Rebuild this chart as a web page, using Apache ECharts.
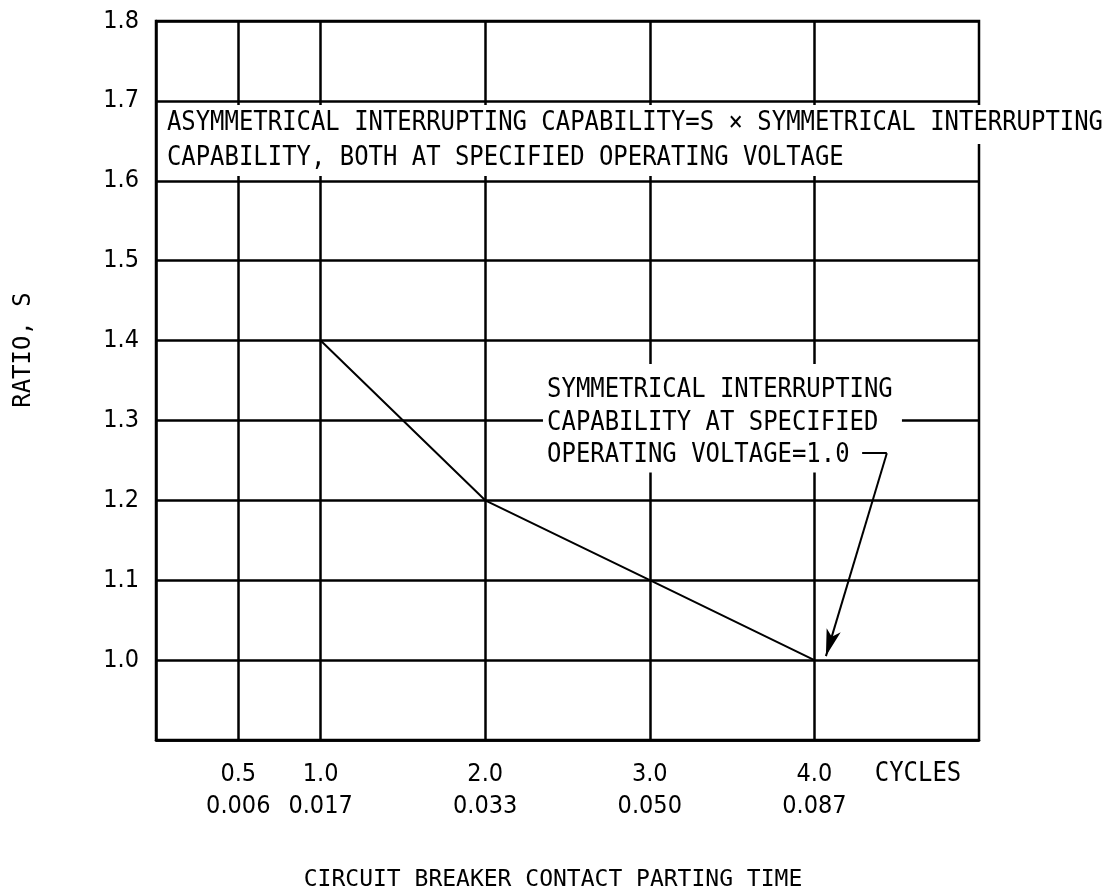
<!DOCTYPE html>
<html>
<head>
<meta charset="utf-8">
<script src="https://cdn.jsdelivr.net/npm/echarts@6/dist/echarts.min.js"></script>
<style>
  html, body { margin: 0; padding: 0; background: #fff; }
  #chart { width: 1111px; height: 896px; }
</style>
</head>
<body>
<div id="chart"></div>
<script>
// Parting time (cycles) and the corresponding ratio S
const cycles = [1.0, 2.0, 3.0, 4.0];
const ratioS = [1.4, 1.2, 1.1, 1.0];

// Bottom axis: tick positions in cycles, with the time in seconds underneath
const tickCycles = [0.5, 1.0, 2.0, 3.0, 4.0];
const tickCycleText = ['0.5', '1.0', '2.0', '3.0', '4.0'];
const tickSecondText = ['0.006', '0.017', '0.033', '0.050', '0.087'];

// Leader from the note to the S = 1.0 point (cycles, ratio)
const leaderBend = [[4.29, 1.259], [4.44, 1.259]];
const leaderTip = [4.07, 1.005];

const ink = '#000';
const capsFont = 'DejaVu Sans Mono';
const numFont = 'DejaVu Sans Condensed, DejaVu Sans';
const capsScale = 0.92;   // narrows the monospace capitals

const chart = echarts.init(document.getElementById('chart'), null, { renderer: 'canvas' });

const option = {
  backgroundColor: '#fff',
  animation: false,
  grid: {
    left: 156, top: 21, width: 823, height: 719,
    show: true, borderColor: ink, borderWidth: 2.5, backgroundColor: 'transparent'
  },
  xAxis: {
    type: 'value', min: 0, max: 5,
    axisLine: { show: true, lineStyle: { color: ink, width: 2.5 } },
    axisTick: { show: false, customValues: tickCycles },
    splitLine: { show: true, lineStyle: { color: ink, width: 2.5 } },
    axisLabel: {
      customValues: tickCycles,
      margin: 18,
      color: ink,
      fontFamily: numFont,
      fontSize: 25,
      lineHeight: 32,
      formatter: function (v) {
        const i = tickCycles.indexOf(v);
        return i < 0 ? '' : tickCycleText[i] + '\n' + tickSecondText[i];
      }
    }
  },
  yAxis: {
    type: 'value', min: 0.9, max: 1.8, interval: 0.1,
    axisLine: { show: true, lineStyle: { color: ink, width: 2.5 } },
    axisTick: { show: false },
    splitLine: { show: true, lineStyle: { color: ink, width: 2.5 } },
    axisLabel: {
      margin: 17,
      color: ink,
      fontFamily: numFont,
      fontSize: 25,
      formatter: function (v) { return v < 0.95 ? '' : v.toFixed(1); }
    }
  },
  series: [{
    type: 'line',
    z: 30,
    data: cycles.map((c, i) => [c, ratioS[i]]),
    symbol: 'none',
    lineStyle: { color: ink, width: 2 },
    markLine: {
      silent: true,
      z: 30,
      symbol: 'none',
      label: { show: false },
      lineStyle: { color: ink, width: 2, type: 'solid' },
      data: [
        [{ coord: leaderBend[0] }, { coord: leaderBend[1] }],
        [{ coord: leaderBend[1] }, { coord: leaderTip, symbol: 'arrow', symbolSize: [11, 27] }]
      ]
    }
  }]
};
chart.setOption(option);

// Notes and axis titles, placed from the chart's own coordinate system
const px = (x, y) => chart.convertToPixel({ gridIndex: 0 }, [x, y]);
const capsText = (text, extra) => Object.assign({
  text: text, fill: ink, font: '26px ' + capsFont
}, extra);

const topNote1 = px(0.03, 1.6947);
const topNote2 = px(0.03, 1.6459);
const midNote = px(2.351, 1.3705);

chart.setOption({
  graphic: [
    {
      type: 'text', z: 10, x: topNote1[0], y: topNote1[1], scaleX: capsScale,
      style: capsText('ASYMMETRICAL INTERRUPTING CAPABILITY=S \u00d7 SYMMETRICAL INTERRUPTING',
        { backgroundColor: '#fff', lineHeight: 34, padding: [1, 6, 4, 6.5] })
    },
    {
      type: 'text', z: 10, x: topNote2[0], y: topNote2[1], scaleX: capsScale,
      style: capsText('CAPABILITY, BOTH AT SPECIFIED OPERATING VOLTAGE',
        { backgroundColor: '#fff', lineHeight: 28, padding: [0, 6, 4, 6.5] })
    },
    {
      type: 'text', z: 10, x: midNote[0], y: midNote[1], scaleX: capsScale,
      style: capsText('SYMMETRICAL INTERRUPTING\nCAPABILITY AT SPECIFIED\nOPERATING VOLTAGE=1.0',
        { backgroundColor: '#fff', lineHeight: 32.5, padding: [10, 10, 1, 4.5] })
    },
    {
      type: 'text', x: 918, y: 774, scaleX: capsScale,
      style: capsText('CYCLES', { align: 'center', verticalAlign: 'middle' })
    },
    {
      type: 'text', x: 553, y: 880,
      style: { text: 'CIRCUIT BREAKER CONTACT PARTING TIME', fill: ink, font: '23px ' + capsFont, align: 'center', verticalAlign: 'middle' }
    },
    {
      type: 'text', x: 24, y: 350, rotation: Math.PI / 2,
      style: { text: 'RATIO, S', fill: ink, font: '24px ' + capsFont, align: 'center', verticalAlign: 'middle' }
    }
  ]
});
</script>
</body>
</html>
